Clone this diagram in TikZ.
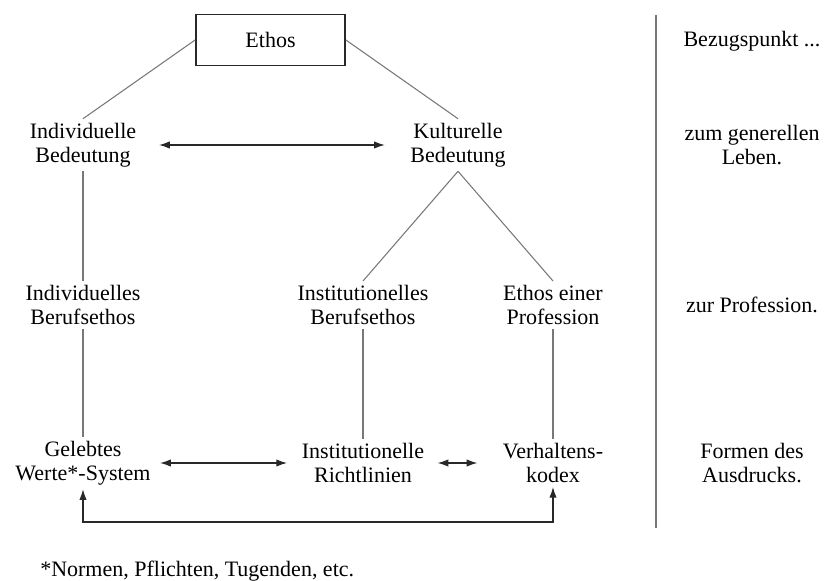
\documentclass[tikz,border=0pt]{standalone}
\usepackage{fontspec}
\setmainfont{Liberation Serif}
\usetikzlibrary{arrows.meta}

\begin{document}
\begin{tikzpicture}[x=0.75pt,y=0.75pt,yscale=-1,xscale=1,
    every node/.style={font=\fontsize{16.5}{18}\selectfont, align=center, inner sep=3pt},
    verbindung/.style={draw={rgb, 255:red, 120; green, 120; blue, 120}, line width=0.8pt},
    pfeil/.style={draw={rgb, 255:red, 40; green, 40; blue, 40}, line width=0.8pt, {Latex[length=8pt,width=5.5pt]}-{Latex[length=8pt,width=5.5pt]}}]
        \useasboundingbox (0,0) rectangle (826,581);

        %Shape: Rectangle
        \node [draw={rgb, 255:red, 40; green, 40; blue, 40}, line width=1.1pt, minimum width=112pt, minimum height=38pt] (ethos) at (270.5,40) {Ethos};

        % Text Node
        \node (indbed) at (83,145) {Individuelle\\Bedeutung};
        % Text Node
        \node (kulbed) at (458,145) {Kulturelle\\Bedeutung};
        % Text Node
        \node (indberuf) at (83,305) {Individuelles\\Berufsethos};
        % Text Node
        \node (instberuf) at (363,305) {Institutionelles\\Berufsethos};
        % Text Node
        \node (prof) at (553,305) {Ethos einer\\Profession};
        % Text Node
        \node (werte) at (83,463) {Gelebtes\\Werte*-System};
        % Text Node
        \node (richtl) at (363,463) {Institutionelle\\Richtlinien};
        % Text Node
        \node (kodex) at (553,463) {Verhaltens-\\kodex};

        % Text Node
        \node (bezug) at (752,41) {Bezugspunkt ...};
        % Text Node
        \node (leben) at (752,145) {zum generellen\\Leben.};
        % Text Node
        \node (zurprof) at (752,305) {zur Profession.};
        % Text Node
        \node (formen) at (752,463) {Formen des\\Ausdrucks.};
        % Text Node
        \node [anchor=west] (fussnote) at (36,571) {*Normen, Pflichten, Tugenden, etc.};

        %Straight Lines
        \draw [verbindung] (ethos.west) -- (indbed.north);
        \draw [verbindung] (ethos.east) -- (kulbed.north);
        \draw [verbindung] (indbed.south) -- (indberuf.north);
        \draw [verbindung] (kulbed.south) -- (instberuf.north);
        \draw [verbindung] (kulbed.south) -- (prof.north);
        \draw [verbindung] (indberuf.south) -- (werte.north);
        \draw [verbindung] (instberuf.south) -- (richtl.north);
        \draw [verbindung] (prof.south) -- (kodex.north);

        %Arrows
        \draw [pfeil, shorten <=14pt, shorten >=16pt] (indbed) -- (kulbed);
        \draw [pfeil, shorten <=4pt, shorten >=8pt] (werte) -- (richtl);
        \draw [pfeil, shorten <=7pt, shorten >=16pt] (richtl) -- (kodex);
        \coordinate (unten) at (83,522);
        \draw [pfeil] (werte.south) -- (unten) -| (kodex.south);

        %Separator
        \draw [verbindung, line width=1.2pt] (656,15) -- (656,528);

        \end{tikzpicture}
\end{document}
